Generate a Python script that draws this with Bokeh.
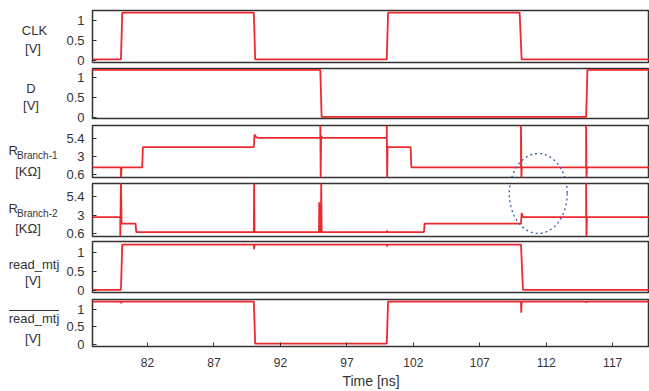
from bokeh.plotting import figure
from bokeh.layouts import row, column
from bokeh.models import Range1d, FixedTicker
from bokeh.core.properties import value
from bokeh.embed import file_html
from bokeh.resources import INLINE

# ---------------- data ----------------
x_ticks = [82, 87, 92, 97, 102, 107, 112, 117]
v_ticks = [0, 0.5, 1]
v_tick_labels = ["0", "0.5", "1"]
r_ticks = [0.6, 3, 5.4]
r_tick_labels = ["0.6", "3", "5.4"]

clk_t = [77.8, 80.0, 80.1, 90.0, 90.1, 100.0, 100.1, 110.0, 110.15, 120.0]
clk_v = [0.02, 0.02, 1.2, 1.2, 0.02, 0.02, 1.2, 1.2, 0.02, 0.02]

d_t = [77.8, 95.0, 95.1, 115.0, 115.1, 120.0]
d_v = [1.2, 1.2, 0.02, 0.02, 1.2, 1.2]

r1_t = [77.8, 80.0, 80.0, 80.05, 81.6, 81.65, 90.0, 90.05, 90.2, 90.4, 95.0, 95.0, 95.03, 95.06,
        95.15, 100.0, 100.0, 100.03, 100.06, 101.8, 101.85, 110.1, 110.1, 110.13, 110.16,
        115.0, 115.0, 115.03, 115.06, 120.0]
r1_v = [1.5, 1.5, 0.05, 1.5, 1.5, 4.2, 4.2, 5.9, 5.5, 5.45, 5.45, 7.5, 0.05, 5.7,
        5.45, 5.45, 7.5, 0.05, 4.2, 4.2, 1.5, 1.5, 7.5, 0.05, 1.5,
        1.5, 7.5, 0.05, 1.5, 1.5]

r2_t = [77.8, 79.95, 79.95, 80.0, 80.05, 81.1, 81.15, 90.0, 90.02, 90.05, 94.9, 94.92, 94.95,
        95.05, 95.07, 95.1, 100.0, 100.02, 100.05, 102.8, 102.85, 110.1, 110.15, 110.25,
        115.0, 115.0, 115.03, 115.06, 120.0]
r2_v = [2.75, 2.75, 0.1, 7.5, 1.9, 1.9, 0.8, 0.8, 7.5, 0.8, 0.8, 4.7, 0.8,
        0.8, 7.5, 0.8, 0.8, 1.0, 0.8, 0.8, 1.9, 1.9, 3.3, 2.75,
        2.75, 7.5, 0.1, 2.75, 2.75]

rm_t = [77.8, 80.0, 80.1, 90.0, 90.02, 90.05, 100.0, 100.02, 100.05, 110.1, 110.25, 120.0]
rm_v = [0.02, 0.02, 1.2, 1.2, 1.08, 1.2, 1.2, 1.15, 1.2, 1.2, 0.02, 0.02]

rmb_t = [77.8, 80.0, 80.02, 80.05, 90.0, 90.1, 100.0, 100.1, 110.1, 110.12, 110.15,
         115.0, 115.02, 115.05, 120.0]
rmb_v = [1.22, 1.22, 1.17, 1.22, 1.22, 0.02, 0.02, 1.22, 1.22, 0.9, 1.22,
         1.22, 1.19, 1.22, 1.22]

# highlight ellipse (time centre / width), per-panel vertical placement
hl_t = 111.4
hl_w = 4.36
hl_r1 = (-1.99, 10.7)   # centre, height in R_Branch-1 panel units
hl_r2 = (5.86, 10.49)   # centre, height in R_Branch-2 panel units

# ---------------- styling ----------------
RED = "#ed1c24"
FONT = "Liberation Sans"
X0, X1 = 77.86, 119.77

def make_panel(height, btop, bbot, yr, ticks, tlabels, t, v, bottom=False):
    p = figure(width=589, height=height, x_range=Range1d(X0, X1), y_range=Range1d(*yr),
               toolbar_location=None, output_backend="svg",
               min_border_left=32, min_border_right=0,
               min_border_top=btop, min_border_bottom=bbot)
    p.grid.visible = False
    p.outline_line_color = "#333333"
    p.outline_line_width = 1.5
    p.background_fill_color = "white"
    p.border_fill_color = "white"
    ya = p.yaxis[0]
    ya.ticker = FixedTicker(ticks=ticks)
    ya.major_label_overrides = {k: s for k, s in zip(ticks, tlabels)}
    ya.major_tick_in = 4
    ya.major_tick_out = 0
    ya.minor_tick_line_color = None
    ya.axis_line_color = None
    ya.major_tick_line_color = "#333333"
    ya.major_label_standoff = 8
    ya.major_label_text_font = FONT
    ya.major_label_text_font_size = "13px"
    ya.major_label_text_color = "#333333"
    xa = p.xaxis[0]
    if bottom:
        xa.ticker = FixedTicker(ticks=x_ticks)
        xa.major_tick_in = 4
        xa.major_tick_out = 0
        xa.minor_tick_line_color = None
        xa.axis_line_color = None
        xa.major_tick_line_color = "#333333"
        xa.major_label_standoff = 11
        xa.major_label_text_font = FONT
        xa.major_label_text_font_size = "12px"
        xa.major_label_text_color = "#333333"
        xa.axis_label = "Time [ns]"
        xa.axis_label_text_font = FONT
        xa.axis_label_text_font_size = "14px"
        xa.axis_label_text_font_style = "normal"
        xa.axis_label_text_color = "#333333"
        xa.axis_label_standoff = 3
    else:
        xa.visible = False
    p.line(t, v, line_color=RED, line_width=1.8, line_alpha=0.95)
    return p

p1 = make_panel(67, 10, 5, (-0.06, 1.255), v_ticks, v_tick_labels, clk_t, clk_v)
p2 = make_panel(57, 1, 6, (-0.02, 1.235), v_ticks, v_tick_labels, d_t, d_v)
p3 = make_panel(58, 1, 5, (0.15, 7.10), r_ticks, r_tick_labels, r1_t, r1_v)
p4 = make_panel(58, 1, 4, (0.22, 7.17), r_ticks, r_tick_labels, r2_t, r2_v)
p5 = make_panel(57, 1, 5, (-0.05, 1.28), v_ticks, v_tick_labels, rm_t, rm_v)
p6 = make_panel(94, 2, 41, (-0.06, 1.28), v_ticks, v_tick_labels, rmb_t, rmb_v, bottom=True)

for pp, (cy, hh) in ((p3, hl_r1), (p4, hl_r2)):
    pp.ellipse(x=[hl_t], y=[cy], width=[hl_w], height=[hh], fill_color=None,
               line_color="#3a56a8", line_width=1.3, line_dash="2 3")

# ---------------- left label column (page pixel coordinates) ----------------
lab = figure(width=60, height=391, x_range=Range1d(0, 60), y_range=Range1d(391, 0),
             toolbar_location=None, output_backend="svg",
             min_border=0, min_border_left=0, min_border_right=0,
             min_border_top=0, min_border_bottom=0)
lab.axis.visible = False
lab.grid.visible = False
lab.outline_line_color = None

main_names = ["CLK", "D", "read_mtj", "read_mtj"]
main_x = [34, 30.5, 33.5, 33.5]
main_y = [30, 88, 264, 318]
unit_names = ["[V]", "[V]", "[KΩ]", "[KΩ]", "[V]", "[V]"]
unit_x = [32.5, 30.5, 27.5, 27.5, 32.5, 32.5]
unit_y = [47.5, 105, 171, 228, 280, 338]
r_names = ["R", "R"]
r_y = [150, 208]
sub_names = ["Branch-1", "Branch-2"]
sub_y = [155, 213]

common = dict(text_font=value(FONT), text_color="#333333", text_baseline="middle")
lab.text(x=main_x, y=main_y, text=main_names, text_font_size="13px", text_align="center", **common)
lab.text(x=unit_x, y=unit_y, text=unit_names, text_font_size="13px", text_align="center", **common)
lab.text(x=[8, 8], y=r_y, text=r_names, text_font_size="13px", text_align="left", **common)
lab.text(x=[16.5, 16.5], y=sub_y, text=sub_names, text_font_size="10px", text_align="left", **common)
lab.segment(x0=[8.5], y0=[310], x1=[58.5], y1=[310], line_color="#333333", line_width=1)

layout = row(lab, column(p1, p2, p3, p4, p5, p6))

with open("out.html", "w") as f:
    f.write(file_html(layout, INLINE))
